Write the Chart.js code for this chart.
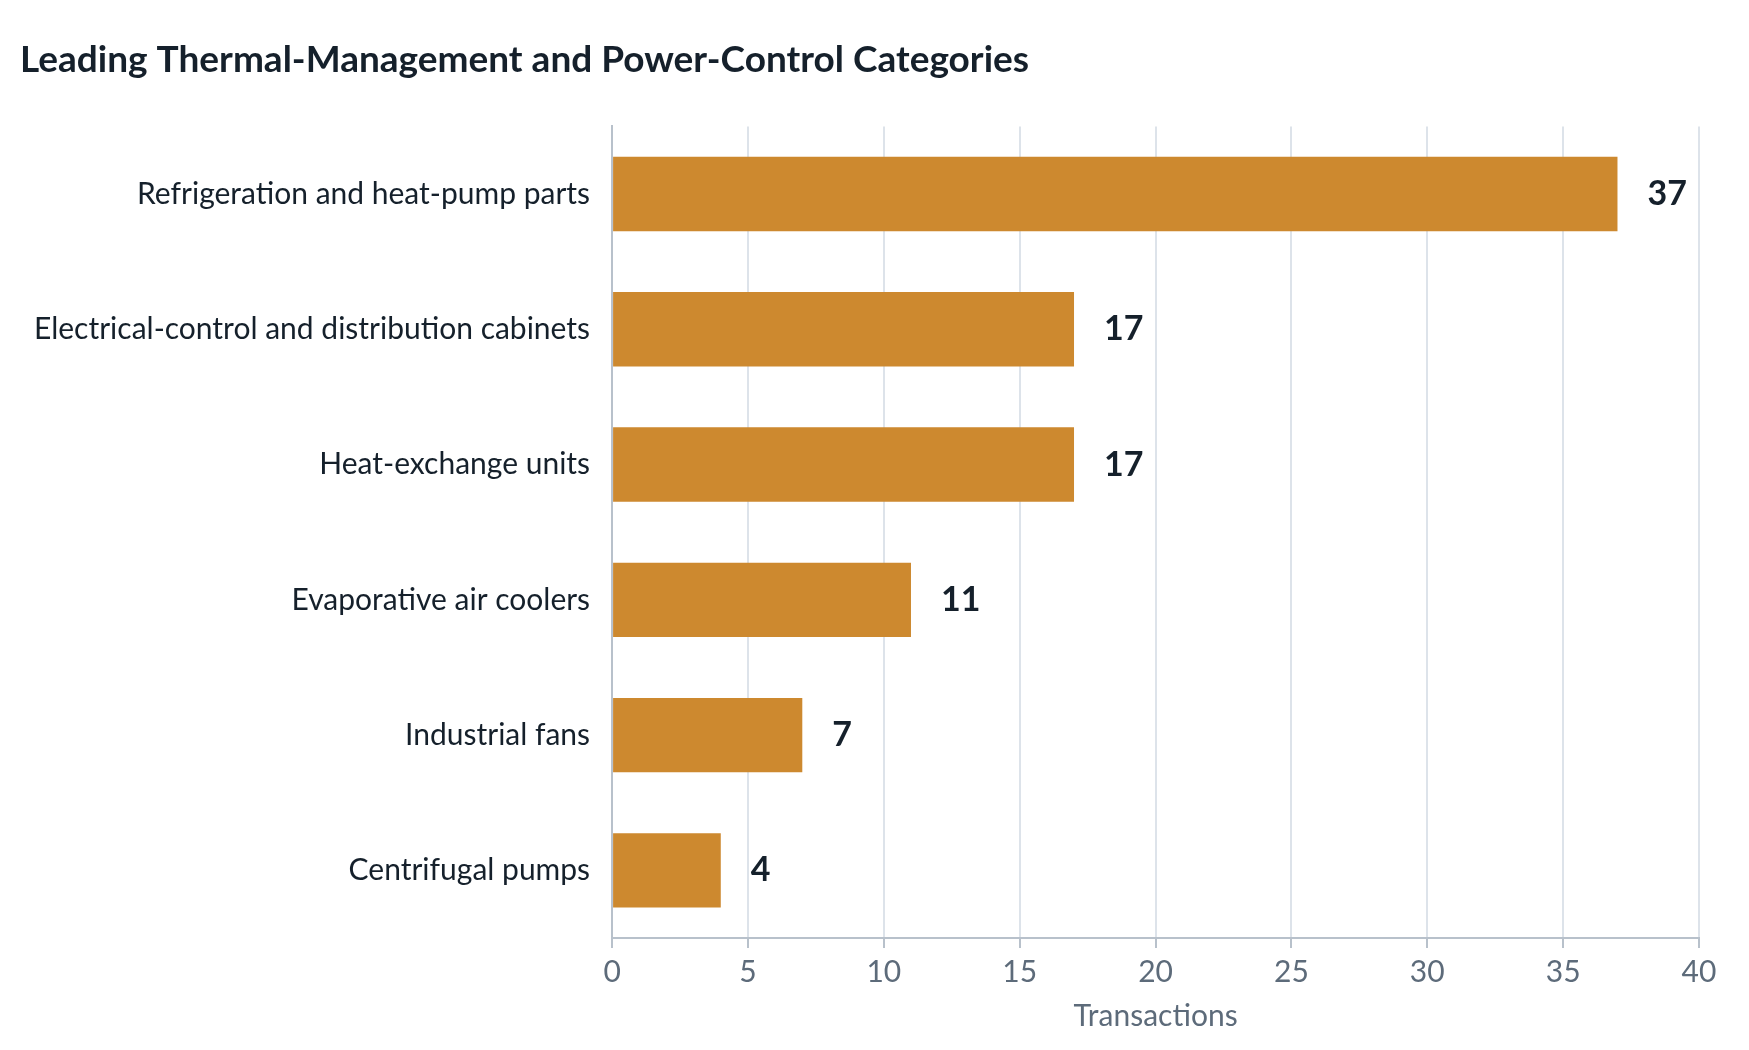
<!DOCTYPE html>
<html>
<head>
<meta charset="utf-8">
<script src="https://cdn.jsdelivr.net/npm/chart.js@4"></script>
<style>
  body { margin: 0; background: #fff; }
  #wrap { width: 1749px; height: 1050px; }
</style>
</head>
<body>
<div id="wrap"><canvas id="chart"></canvas></div>
<script>
const categories = [
  'Refrigeration and heat-pump parts',
  'Electrical-control and distribution cabinets',
  'Heat-exchange units',
  'Evaporative air coolers',
  'Industrial fans',
  'Centrifugal pumps'
];
const transactions = [37, 17, 17, 11, 7, 4];

// value labels at the bar ends
const valueLabels = {
  id: 'valueLabels',
  afterDatasetsDraw(chart) {
    const ctx = chart.ctx;
    const meta = chart.getDatasetMeta(0);
    ctx.save();
    ctx.font = 'bold 34px Lato';
    ctx.fillStyle = '#15202b';
    ctx.textBaseline = 'middle';
    meta.data.forEach(function(bar, i) {
      ctx.fillText(String(transactions[i]), bar.x + 30, bar.y);
    });
    ctx.restore();
  }
};

const ctx = document.getElementById('chart').getContext('2d');
new Chart(ctx, {
  type: 'bar',
  data: {
    labels: categories,
    datasets: [{
      data: transactions,
      backgroundColor: '#cd892f',
      categoryPercentage: 1,
      barPercentage: 0.55
    }]
  },
  options: {
    indexAxis: 'y',
    responsive: true,
    maintainAspectRatio: false,
    animation: false,
    layout: { padding: { left: 20, right: 50, top: 10, bottom: 12 } },
    plugins: {
      legend: { display: false },
      tooltip: { enabled: false },
      title: {
        display: true,
        text: 'Leading Thermal-Management and Power-Control Categories',
        align: 'start',
        color: '#15202b',
        font: { family: 'Lato', size: 37, weight: 'bold' },
        padding: { top: 28, bottom: 44 }
      }
    },
    scales: {
      x: {
        min: 0,
        max: 40,
        ticks: { stepSize: 5, color: '#5d6b7a', font: { family: 'Lato', size: 30 }, padding: 6 },
        grid: { color: '#dde3ea', lineWidth: 2, tickLength: 10, tickColor: '#b8c1cb' },
        border: { color: '#b8c1cb', width: 2 },
        title: { display: true, text: 'Transactions', color: '#5d6b7a', font: { family: 'Lato', size: 30 }, padding: { top: 2 } }
      },
      y: {
        ticks: { color: '#15202b', font: { family: 'Lato', size: 30 }, padding: 14 },
        grid: { display: false },
        border: { color: '#b8c1cb', width: 2 }
      }
    }
  },
  plugins: [valueLabels]
});
</script>
</body>
</html>
